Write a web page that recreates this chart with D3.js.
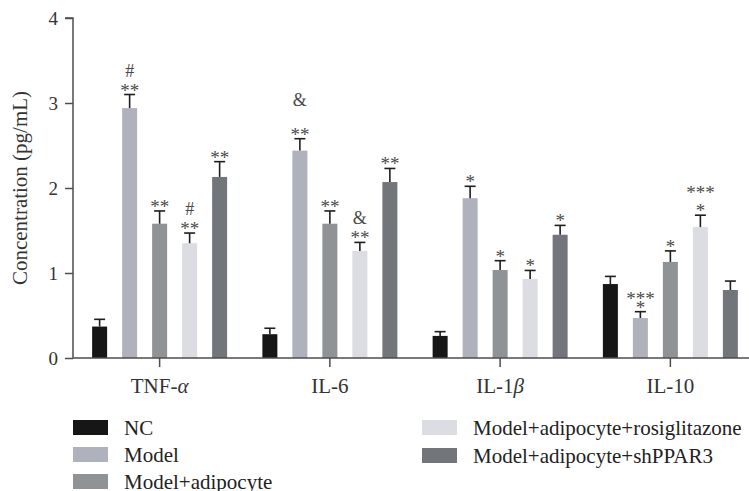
<!DOCTYPE html>
<html>
<head>
<meta charset="utf-8">
<script src="https://cdn.jsdelivr.net/npm/d3@7/dist/d3.min.js"></script>
<style>
  html, body { margin: 0; padding: 0; background: #fff; }
  svg { display: block; }
</style>
</head>
<body>
<svg id="chart" width="749" height="491"></svg>
<script>
// ---------------- DATA ----------------
const categories = ["TNF-α", "IL-6", "IL-1β", "IL-10"];
const seriesNames = ["NC", "Model", "Model+adipocyte", "Model+adipocyte+rosiglitazone", "Model+adipocyte+shPPAR3"];
const yTicks = [0, 1, 2, 3, 4];

const valuesNC    = [0.37, 0.28, 0.26, 0.87];
const valuesModel = [2.94, 2.44, 1.88, 0.47];
const valuesAdip  = [1.58, 1.58, 1.035, 1.13];
const valuesRosi  = [1.35, 1.26, 0.93, 1.54];
const valuesSh    = [2.13, 2.07, 1.45, 0.80];

const errNC    = [0.085, 0.07, 0.05, 0.09];
const errModel = [0.16, 0.14, 0.14, 0.075];
const errAdip  = [0.15, 0.15, 0.11, 0.13];
const errRosi  = [0.12, 0.10, 0.10, 0.14];
const errSh    = [0.18, 0.16, 0.11, 0.105];

// significance marks: [category index, series index, lines bottom->top]
const annotations = [
  [0, 1, ["**", "#"]], [0, 2, ["**"]], [0, 3, ["**", "#"]], [0, 4, ["**"]],
  [1, 1, ["**", "&"]], [1, 2, ["**"]], [1, 3, ["**", "&"]], [1, 4, ["**"]],
  [2, 1, ["*"]], [2, 2, ["*"]], [2, 3, ["*"]], [2, 4, ["*"]],
  [3, 1, ["*", "***"]], [3, 2, ["*"]], [3, 3, ["*", "***"]]
];
// ---------------- STYLE ----------------
const colors = ["#161616", "#afb1bc", "#8f9396", "#dcdde2", "#72767a"];
const annotGap = { "1-1": 33, "3-1": 9 }; // line spacing overrides (px)
const defaultGap = 18;
const FONT = "'Liberation Serif', 'Times New Roman', serif";

const allValues = [valuesNC, valuesModel, valuesAdip, valuesRosi, valuesSh];
const allErrs = [errNC, errModel, errAdip, errRosi, errSh];

const W = 749, H = 491;
const margin = { left: 73, top: 18, bottom: 358 };

const svg = d3.select("#chart");

const y = d3.scaleLinear().domain([0, 4]).range([margin.bottom, margin.top]);
const x0 = d3.scaleBand().domain(categories).range([74.5, 755.5]).padding(0);
const x1 = d3.scaleBand().domain(seriesNames).range([0, x0.bandwidth()])
  .paddingInner(0.5).paddingOuter(0.5875);

const data = [];
categories.forEach((c, ci) => {
  seriesNames.forEach((s, si) => {
    data.push({ c, ci, s, si, v: allValues[si][ci], e: allErrs[si][ci] });
  });
});

// bars
svg.append("g").selectAll("rect").data(data).join("rect")
  .attr("x", d => x0(d.c) + x1(d.s))
  .attr("y", d => y(d.v))
  .attr("width", x1.bandwidth())
  .attr("height", d => y(0) - y(d.v))
  .attr("fill", d => colors[d.si]);

// error bars
const eg = svg.append("g").attr("stroke", "#1e1e1e").attr("stroke-width", 1.6).attr("fill", "none");
data.forEach(d => {
  const cx = x0(d.c) + x1(d.s) + x1.bandwidth() / 2;
  eg.append("line").attr("x1", cx).attr("x2", cx).attr("y1", y(d.v)).attr("y2", y(d.v + d.e));
  eg.append("line").attr("x1", cx - 5.5).attr("x2", cx + 5.5).attr("y1", y(d.v + d.e)).attr("y2", y(d.v + d.e));
});

// annotations
const ag = svg.append("g").attr("font-family", FONT).attr("font-size", 19)
  .attr("fill", "#4a4a4a").attr("text-anchor", "middle");
annotations.forEach(([ci, si, lines]) => {
  const c = categories[ci], s = seriesNames[si];
  const cx = x0(c) + x1(s) + x1.bandwidth() / 2;
  const top = y(allValues[si][ci] + allErrs[si][ci]);
  const gap = annotGap[ci + "-" + si] || defaultGap;
  lines.forEach((t, li) => {
    const isStar = t.indexOf("*") >= 0;
    const base = top + 2 - li * gap;
    ag.append("text").attr("x", cx).attr("y", isStar ? base : base - 2)
      .attr("font-size", isStar ? 19 : 18).text(t);
  });
});

// y axis
const yAxis = svg.append("g").attr("transform", `translate(${margin.left},0)`)
  .call(d3.axisLeft(y).tickValues(yTicks).tickSize(8).tickPadding(7).tickFormat(d3.format("d")));
yAxis.select(".domain").attr("d", `M-8,${y(4)}H0V${y(0)}`).attr("stroke", "#4d4d4d").attr("stroke-width", 1.5);
yAxis.selectAll(".tick line").attr("stroke", "#4d4d4d").attr("stroke-width", 1.5);
yAxis.selectAll(".tick text").attr("font-family", FONT).attr("font-size", 19).attr("fill", "#333");

// x axis
const xAxis = svg.append("g").attr("transform", `translate(0,${margin.bottom})`)
  .call(d3.axisBottom(x0).tickSize(9).tickPadding(12).tickFormat(() => ""));
xAxis.select(".domain").attr("d", `M${margin.left},0H${W}`).attr("stroke", "#4d4d4d").attr("stroke-width", 1.5);
xAxis.selectAll(".tick line").attr("stroke", "#4d4d4d").attr("stroke-width", 1.5);
xAxis.selectAll(".tick text").remove();
// category labels with italic greek
const labelParts = { "TNF-α": ["TNF-", "α"], "IL-6": ["IL-6", ""], "IL-1β": ["IL-1", "β"], "IL-10": ["IL-10", ""] };
xAxis.selectAll(".tick").each(function(d) {
  const t = d3.select(this).append("text").attr("y", 35).attr("text-anchor", "middle")
    .attr("font-family", FONT).attr("font-size", 21).attr("fill", "#333");
  const p = labelParts[d];
  t.append("tspan").text(p[0]);
  if (p[1]) t.append("tspan").attr("font-style", "italic").text(p[1]);
});

// y label
svg.append("text")
  .attr("transform", `translate(27,${(y(0) + y(4)) / 2}) rotate(-90)`)
  .attr("text-anchor", "middle").attr("font-family", FONT).attr("font-size", 21).attr("fill", "#333")
  .text("Concentration (pg/mL)");

// legend
const legendPos = [
  { x: 73, y: 420 }, { x: 73, y: 447 }, { x: 73, y: 474 },
  { x: 422, y: 420 }, { x: 422, y: 448 }
];
const lg = svg.append("g");
seriesNames.forEach((s, i) => {
  const p = legendPos[i];
  lg.append("rect").attr("x", p.x).attr("y", p.y).attr("width", 35).attr("height", 15).attr("fill", colors[i]);
  lg.append("text").attr("x", p.x + 51).attr("y", p.y + 14.5)
    .attr("font-family", FONT).attr("font-size", 21).attr("fill", "#222").text(s);
});
</script>
</body>
</html>
